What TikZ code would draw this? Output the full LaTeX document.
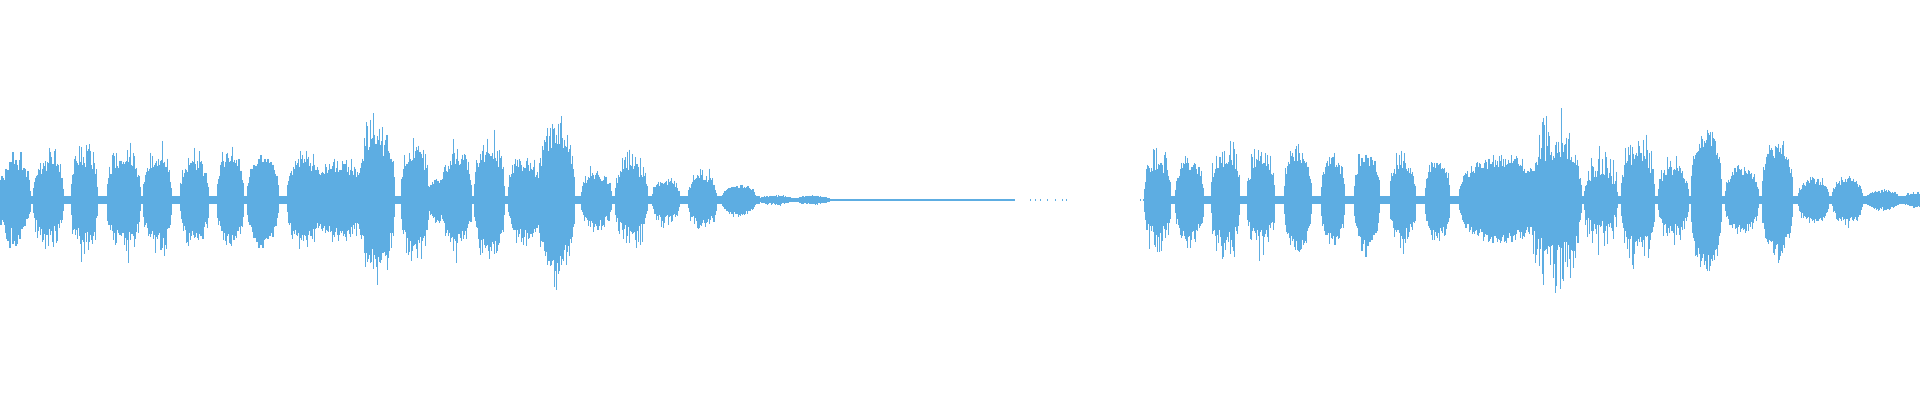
\documentclass[tikz,border=0pt]{standalone}
\definecolor{wavec}{RGB}{93,173,226}
\newcommand\burst[5]{%
 \pgfmathsetmacro\xa{#1+#2/1.633}%
 \pgfmathsetmacro\xb{#1+#3/1.633}%
 \pgfmathsetmacro\nn{int(\xb-\xa)}%
 \foreach \i in {0,...,\nn}{%
   \pgfmathsetmacro\tt{(\i+0.5)/(\nn+1)}%
   \pgfmathsetmacro\ee{pow(sin(180*\tt),0.35)}%
   \pgfmathsetmacro\hu{\ee*(#4*(0.8+0.3*rnd)+(#5-#4)*pow(rnd,2.5))}%
   \pgfmathsetmacro\hd{\ee*(#4*(0.8+0.3*rnd)+(#5-#4)*pow(rnd,2.5))}%
   \draw[wave] ({\xa+\i},{200-\hu}) -- ({\xa+\i},{200+\hd});
 }}
\begin{document}
\begin{tikzpicture}[x=1pt,y=-1pt,wave/.style={draw=wavec,line width=1.05pt}]
\pgfmathsetseed{7}
\useasboundingbox (0,0) rectangle (1920,400);
\fill[wavec] (0,196) rectangle (760,204);
\fill[wavec] (760,198) rectangle (830,202);
\fill[wavec] (830,199.3) rectangle (1015,200.7);
\foreach \d in {1030,1035,1040,1047,1055,1062,1066,1140,1143}{\fill[wavec] (\d,199.3) rectangle ++(1.2,1.4);}
\fill[wavec] (1145,196) rectangle (1920,204);
% first half
\burst{0}{0}{50}{30}{50}
\burst{0}{55}{105}{35}{55}
\burst{0}{117}{160}{38}{65}
\burst{0}{175}{230}{38}{65}
\burst{0}{235}{282}{38}{68}
\burst{0}{295}{342}{36}{52}
\burst{0}{355}{398}{40}{55}
\burst{0}{405}{455}{40}{48}
\burst{0}{470}{525}{38}{52}
\burst{0}{515}{595}{33}{45}
\burst{0}{585}{645}{58}{87}
\burst{0}{655}{700}{45}{67}
\burst{0}{700}{730}{20}{25}
\burst{0}{722}{770}{40}{60}
\burst{0}{775}{825}{45}{72}
\burst{0}{830}{882}{35}{50}
\burst{0}{880}{940}{62}{87}
\burst{0}{950}{1000}{25}{35}
\burst{0}{1005}{1058}{32}{52}
\burst{0}{1065}{1110}{18}{28}
\burst{0}{1125}{1172}{22}{35}
\burst{0}{1180}{1235}{15}{17}
\burst{0}{1240}{1295}{4}{6}
\burst{0}{1300}{1355}{4}{5}
% second half
\burst{960}{302}{345}{35}{60}
\burst{960}{352}{398}{35}{48}
\burst{960}{410}{457}{40}{72}
\burst{960}{470}{515}{35}{63}
\burst{960}{530}{575}{45}{58}
\burst{960}{590}{628}{40}{48}
\burst{960}{645}{685}{40}{55}
\burst{960}{703}{745}{35}{57}
\burst{960}{760}{800}{35}{51}
\burst{960}{815}{950}{40}{45}
\burst{960}{930}{1015}{48}{93}
\burst{960}{1020}{1075}{25}{60}
\burst{960}{1080}{1135}{45}{75}
\burst{960}{1140}{1190}{30}{45}
\burst{960}{1195}{1245}{65}{76}
\burst{960}{1250}{1305}{30}{38}
\burst{960}{1310}{1360}{50}{65}
\burst{960}{1370}{1420}{20}{26}
\burst{960}{1425}{1475}{20}{27}
\burst{960}{1480}{1535}{9}{11}
\burst{960}{1540}{1600}{7}{9}
\end{tikzpicture}
\end{document}
